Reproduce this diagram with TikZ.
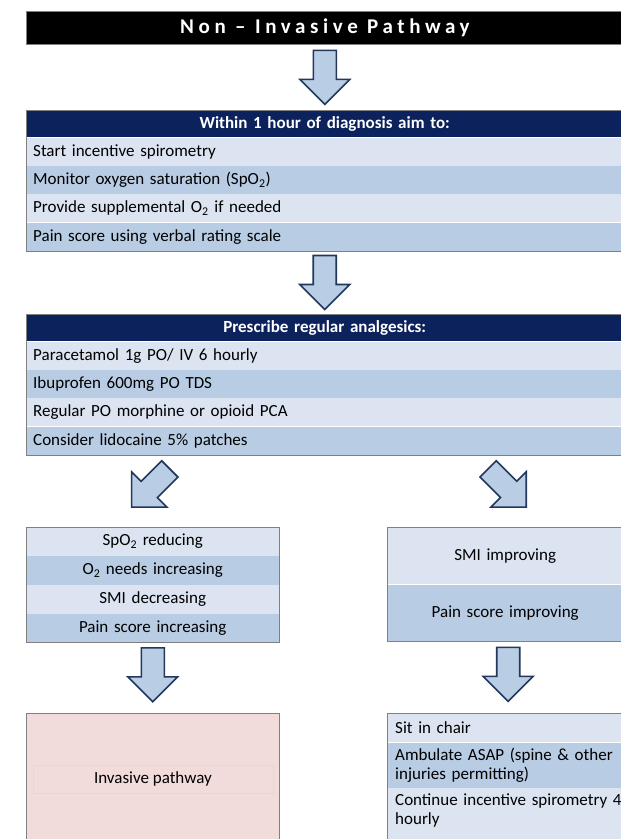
\documentclass[tikz,border=0pt]{standalone}
\usepackage{fontspec}
\setmainfont{Carlito}
\newfontfamily\spacedfont[LetterSpace=22]{Carlito}
\usetikzlibrary{calc}
\definecolor{navy}{RGB}{12,34,92}
\definecolor{lightrow}{RGB}{220,228,242}
\definecolor{midrow}{RGB}{184,204,228}
\definecolor{arrowfill}{RGB}{185,205,229}
\definecolor{arrowedge}{RGB}{33,56,92}
\definecolor{boxedge}{RGB}{128,128,128}
\definecolor{pinkfill}{RGB}{242,220,219}
\definecolor{pinkedge}{RGB}{236,212,211}
\newcommand\diafont{\fontsize{17}{19.5}\selectfont}
\tikzset{
  every node/.style={font=\diafont, text=black},
  row/.style={rectangle, anchor=north west, inner xsep=7pt, inner ysep=0pt, minimum height=28pt, align=left},
  wide/.style={text width=583pt},
  narrowL/.style={text width=239pt, align=center, minimum height=28.5pt},
  narrowR/.style={text width=222pt, align=center, minimum height=57pt},
  lastcol/.style={text width=232pt, inner xsep=8pt, align=left},
  header/.style={fill=navy, text=white, align=center, minimum height=27pt, font=\diafont\bfseries},
  lrow/.style={fill=lightrow},
  mrow/.style={fill=midrow},
  boxline/.style={draw=boxedge, line width=0.8pt},
  arrowline/.style={draw=arrowedge, fill=arrowfill, line width=1.6pt, line join=miter},
  blockarrow/.pic={\path[arrowline] (-11.5,-27) -- (11.5,-27) -- (11.5,2) -- (25,2) -- (0,27) -- (-25,2) -- (-11.5,2) -- cycle;}
}
\begin{document}
\begin{tikzpicture}[x=1pt,y=-1pt]
\useasboundingbox (0,0) rectangle (621,839);
\fill[white] (0,0) rectangle (621,839);
\begin{scope}
\clip (0,0) rectangle (621,839);
% title
\node[fill=black, boxline, minimum width=597pt, minimum height=33pt, anchor=north west, inner sep=0pt,
      text=white, font=\fontsize{21}{24}\selectfont\spacedfont\bfseries] (title) at (26,11) {Non – Invasive Pathway};
% box 2
\node[row, wide, header] (h2) at (26,110) {Within 1 hour of diagnosis aim to:};
\node[row, wide, lrow] (a1) at (h2.south west) {Start incentive spirometry};
\node[row, wide, mrow] (a2) at (a1.south west) {Monitor oxygen saturation (SpO\textsubscript{2})};
\node[row, wide, lrow] (a3) at (a2.south west) {Provide supplemental O\textsubscript{2} if needed};
\node[row, wide, mrow] (a4) at (a3.south west) {Pain score using verbal rating scale};
\draw[boxline] (h2.north west) rectangle (a4.south east);
% box 3
\node[row, wide, header] (h3) at (26,314) {Prescribe regular analgesics:};
\node[row, wide, lrow] (b1) at (h3.south west) {Paracetamol 1g PO/ IV 6 hourly};
\node[row, wide, mrow] (b2) at (b1.south west) {Ibuprofen 600mg PO TDS};
\node[row, wide, lrow] (b3) at (b2.south west) {Regular PO morphine or opioid PCA};
\node[row, wide, mrow] (b4) at (b3.south west) {Consider lidocaine 5\% patches};
\draw[boxline] (h3.north west) rectangle (b4.south east);
% middle left
\node[row, narrowL, lrow] (m1) at (26,527) {SpO\textsubscript{2} reducing};
\node[row, narrowL, mrow] (m2) at (m1.south west) {O\textsubscript{2} needs increasing};
\node[row, narrowL, lrow] (m3) at (m2.south west) {SMI decreasing};
\node[row, narrowL, mrow] (m4) at (m3.south west) {Pain score increasing};
\draw[boxline] (m1.north west) rectangle (m4.south east);
% middle right
\node[row, narrowR, lrow] (n1) at (387,527) {SMI improving};
\node[row, narrowR, mrow] (n2) at (n1.south west) {Pain score improving};
\draw[boxline] (n1.north west) rectangle (n2.south east);
% bottom left
\node[rectangle, anchor=north west, fill=pinkfill, boxline, minimum width=253pt, minimum height=140pt, inner sep=0pt] (inv) at (26,713) {};
\node[draw=pinkedge, line width=0.4pt, minimum width=240pt, minimum height=28pt, inner sep=0pt] (invtext) at ($(inv.north)+(0,66)$) {Invasive pathway};
% bottom right
\node[row, lastcol, lrow, minimum height=29pt] (p1) at (387,713) {Sit in chair};
\node[row, lastcol, mrow, minimum height=45pt] (p2) at (p1.south west) {Ambulate ASAP (spine \& other injuries permitting)};
\node[row, lastcol, lrow, minimum height=45pt] (p3) at (p2.south west) {Continue incentive spirometry 4 hourly};
\fill[lightrow] (p3.south west) rectangle ($(p3.south east)+(0,20)$);
\draw[boxline] (p1.north west) -- ($(p3.south west)+(0,20)$);
\draw[boxline] (p1.north west) -- (p1.north east);
% arrows
\pic at ($(title.south)!0.5!(h2.north)$) {blockarrow};
\pic at ($(a4.south)!0.5!(h3.north)$) {blockarrow};
\pic[rotate=-45] at ($(b4.south -| m1.north)!0.5!(m1.north)+(-2,-3)$) {blockarrow};
\pic[rotate=45] at ($(b4.south -| n1.north)!0.5!(n1.north)+(2,-3)$) {blockarrow};
\pic at ($(m4.south)!0.5!(inv.north)+(0,-3)$) {blockarrow};
\pic at ($(n2.south)!0.5!(p1.north)+(0,-3)$) {blockarrow};
\end{scope}
\end{tikzpicture}
\end{document}
